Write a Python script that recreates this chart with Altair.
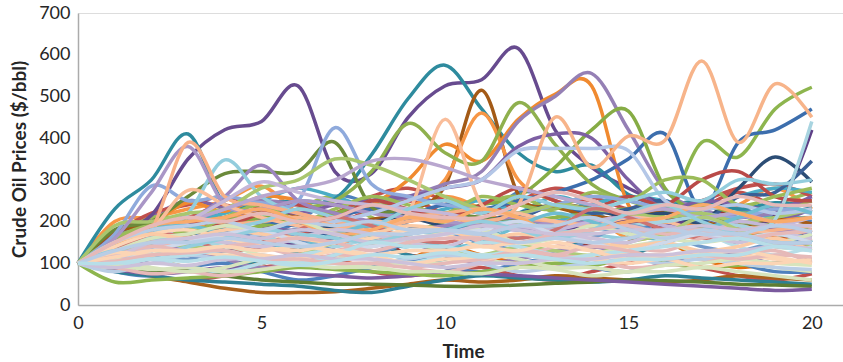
import altair as alt
import pandas as pd

# time axis
time_points = list(range(0, 21))

# ---- prominent paths ----
purple_peak   = [100,170,215,350,420,440,525,320,315,450,525,540,615,420,330,280,240,210,190,185,175]
teal_peak     = [100,230,300,410,240,245,250,255,360,495,575,470,365,320,335,265,240,250,230,245,235]
brown_peak    = [100,175,185,170,200,225,215,190,205,225,285,515,265,235,215,205,225,200,185,205,195]
orange_peak   = [100,150,195,245,225,260,250,215,240,300,385,345,445,505,525,240,195,180,170,160,150]
orange_mid    = [100,130,160,190,200,230,200,170,190,230,300,460,300,250,230,210,200,190,180,200,210]
lavender_peak = [100,140,180,200,230,250,240,220,230,260,290,320,440,500,555,420,275,230,210,220,230]
peach_peak    = [100,130,150,170,190,200,210,190,180,200,210,200,240,450,330,405,395,585,390,530,450]
green_end     = [100,140,160,180,170,190,200,180,190,210,200,190,200,210,220,230,220,390,355,470,522]
blue_end      = [100,120,150,170,180,200,190,210,230,220,240,230,250,270,300,350,410,230,390,420,470]
ltblue_end    = [100,110,130,140,150,160,150,140,160,170,180,170,160,170,180,190,200,210,190,205,440]
dkpurple_end  = [100,90,110,120,130,140,150,160,150,170,180,170,160,180,190,200,190,210,200,215,420]
dkblue_a      = [100,120,140,150,160,170,180,190,200,210,190,200,220,240,230,210,220,200,280,355,295]
dkblue_b      = [100,110,130,150,170,160,180,170,190,200,220,230,210,240,220,230,250,200,260,270,345]
olive_hump    = [100,180,200,260,315,320,320,390,235,230,220,210,200,190,200,180,170,190,180,170,160]
ltgreen_hump  = [100,190,200,220,230,280,300,350,335,300,260,230,220,240,230,220,210,220,200,210,230]
green_twin    = [100,150,170,190,210,200,230,250,320,435,365,345,485,385,290,250,230,240,220,230,250]
green_late    = [100,130,150,170,190,210,200,220,240,230,220,240,260,330,420,465,280,220,200,190,180]
ltblue_hump   = [100,150,170,220,348,260,220,200,190,180,170,190,200,180,170,160,180,170,160,150,170]
periwinkle    = [100,170,285,250,260,245,250,425,290,260,240,230,220,240,260,250,230,220,210,230,220]
lavender_mid  = [100,130,160,200,230,260,280,300,345,350,330,300,280,260,240,220,230,210,220,200,210]
steel_plateau = [100,120,140,160,150,170,180,200,220,250,280,300,370,375,375,370,250,230,240,220,230]
purple_mid    = [100,140,160,190,210,230,220,240,250,260,280,300,380,410,400,300,230,250,240,230,260]
peach_early   = [100,140,180,390,260,240,220,200,190,210,220,230,210,200,190,180,170,160,170,180,190]
peach_spike   = [100,130,180,275,240,210,190,180,200,220,445,240,220,200,190,210,200,180,190,170,180]
lilac_early   = [100,160,270,380,240,230,250,240,220,210,200,190,180,200,190,180,170,180,160,170,180]
purple_five   = [100,140,170,200,260,335,250,220,200,180,190,200,210,190,200,180,170,160,170,180,170]
lilac_five    = [100,120,150,200,250,295,270,250,240,230,220,200,190,180,200,210,190,180,200,190,210]
green_mid_late = [100,160,190,170,210,240,200,230,260,240,220,260,240,230,270,250,300,300,240,260,280]
ltblue_late   = [100,140,160,150,180,200,230,210,190,230,250,220,260,240,230,250,270,250,300,290,300]
red_late      = [100,150,170,200,190,220,240,210,250,230,210,240,280,250,230,260,240,300,320,260,250]

# ---- low paths ----
brown_low  = [100,90,70,55,40,30,30,32,40,50,60,55,60,70,65,60,55,60,70,65,60]
peach_low  = [100,80,70,60,50,40,35,25,25,30,50,65,70,80,90,85,80,90,100,95,90]
green_low  = [100,55,60,65,70,80,90,85,80,75,70,80,90,100,95,110,100,90,95,100,105]
teal_low   = [100,80,70,60,55,50,45,35,30,45,60,70,65,60,55,60,70,65,60,55,50]
olive_low  = [100,90,80,85,70,60,55,50,50,48,45,45,48,52,55,60,58,55,50,48,45]
purple_low = [100,85,75,80,90,85,75,70,65,70,80,75,70,65,60,55,50,45,40,35,38]

# ---- the dense band ----
band_01 = [100,150,200,210,240,200,170,190,230,250,220,190,210,240,250,200,170,230,270,240,250]
band_02 = [100,180,190,210,180,170,200,260,240,190,180,200,270,250,190,180,200,240,230,210,200]
band_03 = [100,170,140,150,190,210,200,170,160,140,180,200,220,260,230,170,160,180,220,210,210]
band_04 = [100,200,210,230,250,285,220,180,190,220,260,230,180,190,210,160,170,200,240,280,230]
band_05 = [100,120,160,170,200,160,130,140,170,120,130,180,220,170,140,150,200,240,200,160,180]
band_06 = [100,150,210,250,230,190,180,210,250,260,240,200,190,160,180,230,240,210,190,200,230]
band_07 = [100,160,210,200,170,190,230,260,210,180,200,240,260,220,190,210,230,200,190,240,270]
band_08 = [100,130,160,150,110,100,130,170,150,120,110,160,190,170,130,120,150,170,150,190,150]
band_09 = [100,120,110,90,80,100,120,110,90,110,140,120,100,90,110,130,150,110,90,100,110]
band_10 = [100,90,70,60,70,90,100,110,80,70,80,90,70,60,80,100,110,90,70,60,75]
band_11 = [100,80,70,90,100,80,60,70,90,110,90,80,100,110,90,80,100,120,100,80,80]
band_12 = [100,170,220,240,260,230,200,220,260,280,250,220,250,280,260,230,230,250,280,290,260]
band_13 = [100,160,190,200,220,250,280,260,230,210,230,250,220,200,240,260,250,230,260,280,270]
band_14 = [100,140,120,110,140,180,160,130,120,150,170,150,130,120,160,190,170,140,130,150,160]
band_15 = [100,110,140,130,110,90,100,120,140,150,120,100,110,130,140,120,110,130,120,100,110]
band_16 = [100,140,180,190,170,150,140,170,190,160,140,150,190,220,200,170,160,180,210,240,220]
band_17 = [100,130,170,160,130,140,180,210,190,160,150,170,160,180,230,210,180,160,170,150,140]
band_18 = [100,120,150,140,130,110,120,150,170,150,130,120,140,130,120,150,170,210,180,140,140]
band_19 = [100,140,190,200,210,230,200,170,180,210,200,230,210,170,180,200,210,240,220,200,210]
band_20 = [100,110,140,150,160,140,120,130,150,170,180,150,120,140,160,140,130,160,170,140,160]
band_21 = [100,90,120,130,140,120,100,110,140,150,130,110,100,110,120,140,150,120,100,90,80]
band_22 = [100,120,110,90,80,100,120,130,110,100,120,150,140,120,110,130,160,170,140,120,140]
band_23 = [100,140,170,180,160,140,130,150,160,180,170,140,150,140,130,120,120,110,120,110,100]
band_24 = [100,110,140,160,150,140,160,180,170,150,140,170,190,170,160,150,180,170,150,170,160]
band_25 = [100,80,100,120,110,120,100,90,100,110,120,100,80,90,100,110,100,110,100,90,85]
band_26 = [100,90,75,80,70,85,100,120,110,90,80,100,130,120,110,90,95,100,120,130,100]
band_27 = [100,130,160,170,190,180,200,170,150,160,170,180,150,160,190,170,160,150,160,150,170]
band_28 = [100,150,170,160,180,170,160,150,170,190,180,160,170,160,150,140,150,130,140,160,130]
band_29 = [100,100,130,150,170,180,150,130,140,150,170,180,200,170,150,130,150,170,160,170,150]
band_30 = [100,130,120,140,160,180,170,160,150,170,180,200,180,160,180,220,240,200,170,150,150]
band_31 = [100,120,140,130,140,150,160,150,130,150,160,160,150,170,180,190,170,180,160,170,180]
band_32 = [100,110,90,80,90,110,100,100,90,100,100,120,110,90,90,80,95,100,110,100,95]
band_33 = [100,115,150,160,170,160,180,170,150,160,170,190,180,170,170,180,180,190,180,190,190]
band_34 = [100,125,120,130,120,120,110,130,120,100,110,110,120,110,110,100,110,90,100,100,110]
band_35 = [100,95,110,120,130,110,100,120,150,140,140,120,130,110,120,130,140,150,160,140,130]
band_36 = [100,150,180,190,200,180,200,190,200,180,180,170,190,190,210,180,160,180,170,190,175]
band_37 = [100,150,190,210,200,220,200,210,240,220,210,210,240,270,250,220,240,230,260,240,240]
band_38 = [100,105,120,125,130,110,110,100,100,90,100,110,130,120,140,130,110,120,110,120,115]
band_39 = [100,95,85,90,80,85,95,90,90,80,80,75,90,85,70,80,80,90,80,70,60]
band_40 = [100,115,130,130,140,130,140,130,120,130,130,140,130,150,130,110,120,120,130,115,100]
band_41 = [100,90,100,95,110,110,120,110,110,100,90,100,100,110,110,120,120,130,130,140,135]
band_42 = [100,130,150,150,160,150,140,150,170,170,180,170,150,160,150,160,180,170,170,150,150]
band_43 = [100,100,110,105,115,105,95,105,120,115,125,115,120,110,100,110,110,120,120,140,130]

# draw order (first drawn at the bottom) with line colours
paths = [
    (band_01, "#C0504D"), (band_02, "#4F81BD"), (band_03, "#4BACC6"), (band_04, "#F79646"),
    (band_05, "#953735"), (band_06, "#8064A2"), (band_07, "#9BBB59"), (band_08, "#31859C"),
    (band_09, "#E46C0A"), (band_10, "#C0504D"), (band_11, "#4F81BD"), (band_12, "#C0504D"),
    (band_13, "#4BACC6"),
    (brown_low, "#A8601C"), (teal_low, "#2E7F93"), (olive_low, "#5E7D32"), (purple_low, "#7B5A9E"),
    (green_low, "#8DB54E"),
    (purple_peak, "#674B8F"), (teal_peak, "#2E8B9E"), (brown_peak, "#A35A16"),
    (orange_mid, "#F79646"), (orange_peak, "#F08A30"), (lavender_peak, "#9580B5"),
    (green_end, "#8DB54E"), (blue_end, "#3C6EAD"), (dkpurple_end, "#5E3F86"),
    (dkblue_a, "#2C4D75"), (dkblue_b, "#3A5F95"), (olive_hump, "#6B8A3A"),
    (green_twin, "#8FB04E"), (green_late, "#86AC45"), (purple_mid, "#7D5FA3"),
    (red_late, "#B94A48"), (green_mid_late, "#9BBB59"),
    (purple_five, "#9C85BE"), (periwinkle, "#8FAADC"), (ltblue_hump, "#93CDDD"),
    (ltgreen_hump, "#A9C66F"), (lilac_early, "#A996C6"), (peach_early, "#F7B088"),
    (peach_spike, "#F9BD9A"), (lavender_mid, "#B9A7CF"), (lilac_five, "#C4B7D9"),
    (steel_plateau, "#B4C7E7"), (peach_peak, "#F7B48A"), (ltblue_late, "#93CDDD"),
    (ltblue_end, "#A8D4E0"),
    (band_14, "#729ACA"), (band_15, "#9983B5"), (band_16, "#6FBDD1"), (band_17, "#CD7371"),
    (band_18, "#AFC97A"), (band_19, "#F9AB6B"),
    (band_20, "#E6B9B8"), (band_21, "#D7E4BD"), (band_22, "#B7DEE8"), (band_23, "#FCD5B5"),
    (band_24, "#CCC1DA"), (band_25, "#B9CDE5"), (band_26, "#E6B9B8"), (band_27, "#D7E4BD"),
    (band_28, "#FBCBA6"), (band_29, "#CFD9EB"), (band_30, "#93CDDD"), (band_31, "#E6B9B8"),
    (band_32, "#D7E4BD"), (band_33, "#CCC1DA"), (band_34, "#FCD5B5"), (band_35, "#B7DEE8"),
    (band_36, "#B9CDE5"), (band_37, "#E6B9B8"), (band_38, "#E6B9B8"), (band_39, "#D7E4BD"),
    (band_40, "#FCD5B5"), (band_41, "#CCC1DA"), (band_42, "#B9CDE5"), (band_43, "#B7DEE8"),
]

rows = []
names = []
colors = []
for i, (vals, col) in enumerate(paths):
    name = f"s{i:03d}"
    names.append(name)
    colors.append(col)
    for t, v in zip(time_points, vals):
        rows.append({"series": name, "order": i, "Time": t, "Price": v})
df = pd.DataFrame(rows)

FONT = "Lato"

chart = alt.Chart(df).mark_line(
    interpolate="cardinal", strokeWidth=3.5, clip=False
).encode(
    x=alt.X("Time:Q",
            scale=alt.Scale(domain=[0, 20.85], nice=False, zero=False),
            axis=alt.Axis(values=[0, 5, 10, 15, 20], grid=False, ticks=False, tickSize=0,
                          labelFlush=False, labelPadding=9, labelFont=FONT, labelFontSize=18,
                          labelColor="#262626", domainColor="#ABABAB", domainWidth=1.5,
                          title="Time", titleFont=FONT, titleFontSize=19, titleFontWeight="bold",
                          titleColor="#262626", titleX=385, titleY=52,
                          titleBaseline="alphabetic", titleAlign="center")),
    y=alt.Y("Price:Q",
            scale=alt.Scale(domain=[0, 700], nice=False),
            axis=alt.Axis(values=[0, 100, 200, 300, 400, 500, 600, 700], grid=False, ticks=False,
                          tickSize=0, labelFlush=False, labelPadding=8, labelFont=FONT,
                          labelFontSize=18, labelColor="#262626", domainColor="#ABABAB",
                          domainWidth=1.5,
                          title="Crude Oil Prices ($/bbl)", titleFont=FONT, titleFontSize=19,
                          titleFontWeight="bold", titleColor="#262626",
                          titleX=-53, titleY=146, titleAngle=-90,
                          titleBaseline="alphabetic", titleAlign="center")),
    color=alt.Color("series:N", scale=alt.Scale(domain=names, range=colors), legend=None),
    order=alt.Order("order:Q"),
).properties(
    width=765, height=292,
    autosize=alt.AutoSizeParams(type="none"),
    padding={"left": 78, "top": 13, "right": 0, "bottom": 57},
).configure_view(stroke=None).configure(background="white")

chart.save("out.html", embed_options={"renderer": "svg", "actions": False})
